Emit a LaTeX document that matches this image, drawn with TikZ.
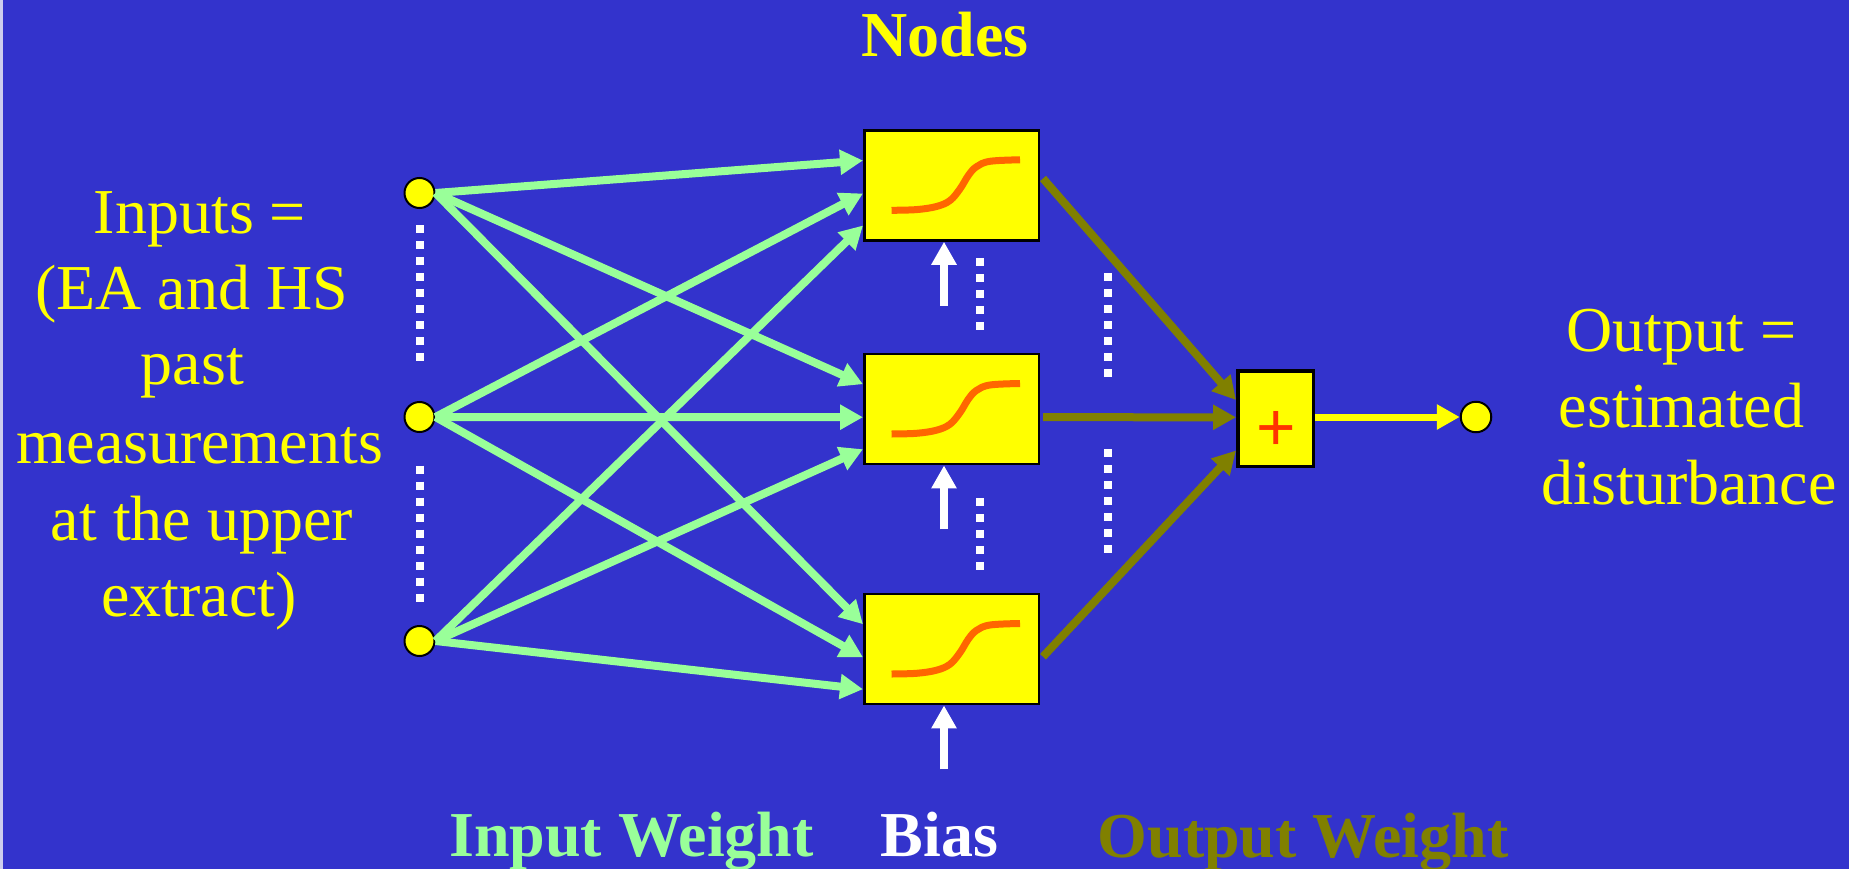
\documentclass[tikz,border=0pt]{standalone}
\usepackage{fontspec}
\setmainfont{Liberation Serif}
\newfontfamily\plusfont{Liberation Sans}
\usetikzlibrary{arrows.meta}
\definecolor{bgblue}{HTML}{3333CC}
\definecolor{edgeblue}{RGB}{205,205,238}
\definecolor{wgreen}{HTML}{99FF99}
\definecolor{wolive}{HTML}{808000}
\definecolor{nyellow}{HTML}{FFFF00}
\definecolor{sigorange}{HTML}{FF6600}
\definecolor{plusred}{HTML}{FF3300}
\tikzset{
  big/.style={font=\fontsize{64}{76.8}\selectfont},
  txt/.style={big, text=nyellow, anchor=base, inner sep=0pt},
  btxt/.style={font=\fontsize{64}{76.8}\selectfont\bfseries, anchor=base, inner sep=0pt},
  dot/.style={circle, draw=black, line width=2pt, fill=nyellow, minimum size=30pt, inner sep=0pt},
  nodebox/.style={rectangle, draw=black, line width=2.5pt, fill=nyellow, minimum width=174.5pt, minimum height=110pt, inner sep=0pt},
  sumbox/.style={rectangle, draw=black, line width=3.5pt, fill=nyellow, minimum width=75.5pt, minimum height=95.5pt, inner sep=0pt},
  tip/.style={-{Triangle[length=23pt,width=24pt]}},
  inw/.style={tip, draw=wgreen, line width=8pt, color=wgreen},
  outw/.style={tip, draw=wolive, line width=8pt, color=wolive},
  outarrow/.style={tip, draw=nyellow, line width=7pt, color=nyellow},
  biasarrow/.style={tip, draw=white, line width=8pt, color=white},
  sig/.style={draw=sigorange, line width=7pt},
  dotline/.style={draw=white, line width=8pt, dash pattern=on 8pt off 8pt}
}
\begin{document}
\begin{tikzpicture}[x=1pt,y=-1pt]
\useasboundingbox (0,0) rectangle (1849,869);
\fill[bgblue] (0,0) rectangle (1849,869);
\fill[edgeblue] (0,0) rectangle (3,869);

% title
\node[btxt, text=nyellow] (title) at (945,57) {Nodes};

% input circles
\node[dot] (c1) at (419.5,193) {};
\node[dot] (c2) at (419.5,417) {};
\node[dot] (c3) at (419.5,641) {};

% hidden nodes
\node[nodebox] (b1) at (951.5,185.5) {};
\node[nodebox] (b2) at (951.5,409.2) {};
\node[nodebox] (b3) at (951.5,649.2) {};

% summation and output
\node[sumbox] (sum) at (1275.5,418.5) {};
\node[anchor=base, inner sep=0pt, text=plusred, font=\plusfont\fontsize{67.6}{70}\selectfont] (plus) at (1276,450) {+};
\node[dot, minimum size=30.5pt] (out) at (1476,417) {};

% sigmoids
\foreach \b in {b1,b2,b3}{
  \draw[sig, shift={(\b.center)}] plot[smooth, tension=0.6] coordinates
    {(-60,24.8) (-35,24.1) (-15,21) (-1.5,15) (8.5,3.4) (16.8,-10) (25,-18.8) (38.5,-24.2) (68.5,-25.7)};
}

% input weights
\draw[inw] (c1.east) -- ([yshift=25pt]b1.west);
\draw[inw] (c1.east) -- ([yshift=25pt]b2.west);
\draw[inw] (c1.east) -- ([yshift=25pt]b3.west);
\draw[inw] (c2.east) -- ([yshift=-8pt]b1.west);
\draw[inw] (c2.east) -- ([yshift=-8pt]b2.west);
\draw[inw] (c2.east) -- ([yshift=-8pt]b3.west);
\draw[inw] (c3.east) -- ([yshift=-40pt]b1.west);
\draw[inw] (c3.east) -- ([yshift=-40pt]b2.west);
\draw[inw] (c3.east) -- ([yshift=-40pt]b3.west);

% output weights
\draw[outw] ([xshift=3pt,yshift=7pt]b1.east) -- ([yshift=18.5pt]sum.west);
\draw[outw] ([xshift=3pt,yshift=-8pt]b2.east) -- ([yshift=1.2pt]sum.west);
\draw[outw] ([xshift=3pt,yshift=-7.5pt]b3.east) -- ([yshift=-32pt]sum.west);

% output arrow
\draw[outarrow] ([yshift=1.5pt]sum.east) -- (out.west);

% bias arrows
\foreach \b in {b1,b2,b3}{
  \draw[biasarrow] ([xshift=-7.5pt,yshift=-64pt]\b.south) -- ([xshift=-7.5pt]\b.south);
}

% dotted continuation marks
\draw[dotline] (419.5,225) -- (419.5,361);
\draw[dotline] (419.5,465.5) -- (419.5,601.5);
\draw[dotline] (980,258) -- (980,330);
\draw[dotline] (980,498) -- (980,570);
\draw[dotline] (1108,273) -- (1108,377);
\draw[dotline] (1108,449) -- (1108,553);

% left text
\node[txt] (in1) at (200,233.3) {Inputs =};
\node[txt] (in2) at (191.5,309.3) {(EA and HS};
\node[txt] (in3) at (192.5,384) {past};
\node[txt] (in4) at (200,463) {measurements};
\node[txt] (in5) at (202,540) {at the upper};
\node[txt] (in6) at (199,616) {extract)};

% right text
\node[txt] (o1) at (1681.5,351) {Output =};
\node[txt] (o2) at (1681.6,427.7) {estimated};
\node[txt] (o3) at (1689,504.3) {disturbance};

% bottom labels
\node[btxt, text=wgreen] (lin) at (631.5,856) {Input Weight};
\node[btxt, text=white] (lbias) at (939.5,856) {Bias};
\node[btxt, text=wolive] (lout) at (1303,857) {Output Weight};
\end{tikzpicture}
\end{document}
